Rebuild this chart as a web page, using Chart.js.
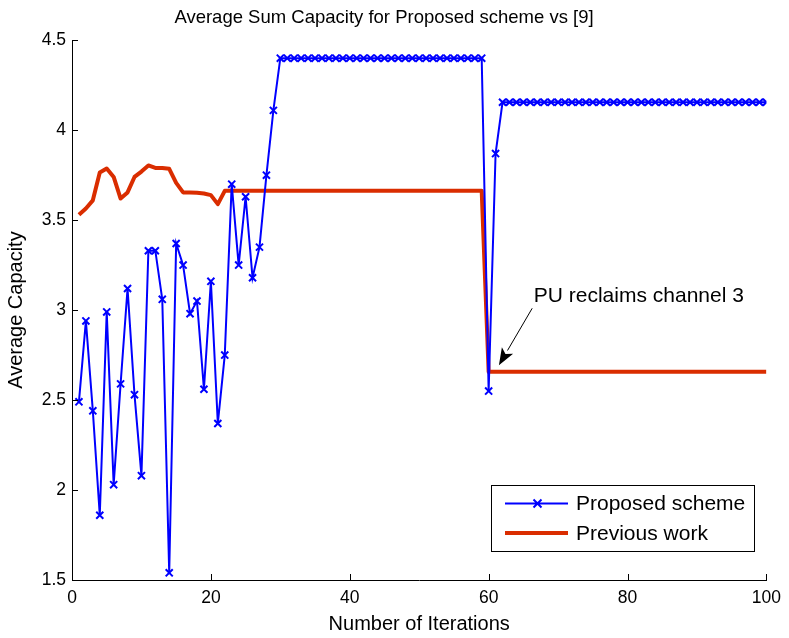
<!DOCTYPE html>
<html>
<head>
<meta charset="utf-8">
<script src="https://cdn.jsdelivr.net/npm/chart.js@4.4.1/dist/chart.umd.min.js"></script>
<style>
    html, body { margin: 0; padding: 0; background: #fff; }
</style>
</head>
<body>
<canvas id="capacityChart" width="789" height="638"></canvas>
<script>
// iteration index 1..100
const iterations = Array.from({ length: 100 }, (_, i) => i + 1)

const proposedScheme = [
    2.49, 2.94, 2.44, 1.86, 2.99, 2.03, 2.59, 3.12, 2.53, 2.08,
    3.33, 3.33, 3.06, 1.54, 3.37, 3.25, 2.98, 3.05, 2.56, 3.16,
    2.37, 2.75, 3.70, 3.25, 3.63, 3.18, 3.35, 3.75, 4.11, 4.40,
    4.40, 4.40, 4.40, 4.40, 4.40, 4.40, 4.40, 4.40, 4.40, 4.40,
    4.40, 4.40, 4.40, 4.40, 4.40, 4.40, 4.40, 4.40, 4.40, 4.40,
    4.40, 4.40, 4.40, 4.40, 4.40, 4.40, 4.40, 4.40, 4.40, 2.55,
    3.87, 4.155, 4.155, 4.155, 4.155, 4.155, 4.155, 4.155, 4.155, 4.155,
    4.155, 4.155, 4.155, 4.155, 4.155, 4.155, 4.155, 4.155, 4.155, 4.155,
    4.155, 4.155, 4.155, 4.155, 4.155, 4.155, 4.155, 4.155, 4.155, 4.155,
    4.155, 4.155, 4.155, 4.155, 4.155, 4.155, 4.155, 4.155, 4.155, 4.155
]
const previousWork = [
    3.53, 3.565, 3.61, 3.765, 3.787, 3.74, 3.62, 3.654, 3.74, 3.77,
    3.804, 3.79, 3.79, 3.785, 3.707, 3.654, 3.654, 3.652, 3.648, 3.639,
    3.589, 3.663, 3.663, 3.663, 3.663, 3.663, 3.663, 3.663, 3.663, 3.663,
    3.663, 3.663, 3.663, 3.663, 3.663, 3.663, 3.663, 3.663, 3.663, 3.663,
    3.663, 3.663, 3.663, 3.663, 3.663, 3.663, 3.663, 3.663, 3.663, 3.663,
    3.663, 3.663, 3.663, 3.663, 3.663, 3.663, 3.663, 3.663, 3.663, 2.657,
    2.657, 2.657, 2.657, 2.657, 2.657, 2.657, 2.657, 2.657, 2.657, 2.657,
    2.657, 2.657, 2.657, 2.657, 2.657, 2.657, 2.657, 2.657, 2.657, 2.657,
    2.657, 2.657, 2.657, 2.657, 2.657, 2.657, 2.657, 2.657, 2.657, 2.657,
    2.657, 2.657, 2.657, 2.657, 2.657, 2.657, 2.657, 2.657, 2.657, 2.657
]

const xTickValues = [0, 20, 40, 60, 80, 100]
const yTickValues = [1.5, 2, 2.5, 3, 3.5, 4, 4.5]
const yTickLabels = ['1.5', '2', '2.5', '3', '3.5', '4', '4.5']

const seriesNames = ['Proposed scheme', 'Previous work']

// the "PU reclaims channel 3" note, in data units
const noteText = 'PU reclaims channel 3'
const notePos = { x: 66.5, y: 3.08 }
const arrowFrom = { x: 66.27, y: 3.01 }
const arrowTo = { x: 61.48, y: 2.694 }

const BLUE = '#0000ff'
const RED = 'rgb(218, 45, 0)'
const FONT = "'Liberation Sans', Arial, Helvetica, sans-serif"

//draws inward ticks, the note with arrow, and the boxed legend
const extrasPlugin = {
    id: 'extras',
    afterDraw(chart) {
        const ctx = chart.ctx
        const xs = chart.scales.x
        const ys = chart.scales.y
        const area = chart.chartArea
        ctx.save()

        // inward ticks
        ctx.strokeStyle = '#000'
        ctx.lineWidth = 1
        ctx.beginPath()
        xTickValues.forEach(v => {
            const px = Math.round(xs.getPixelForValue(v)) + 0.5
            ctx.moveTo(px, area.bottom)
            ctx.lineTo(px, area.bottom - 6)
        })
        yTickValues.forEach(v => {
            const py = Math.round(ys.getPixelForValue(v)) + 0.5
            ctx.moveTo(area.left, py)
            ctx.lineTo(area.left + 6, py)
        })
        ctx.stroke()

        // note text
        ctx.fillStyle = '#000'
        ctx.font = '21px ' + FONT
        ctx.textBaseline = 'middle'
        ctx.textAlign = 'left'
        ctx.fillText(noteText, xs.getPixelForValue(notePos.x), ys.getPixelForValue(notePos.y))

        // arrow
        const ax = xs.getPixelForValue(arrowFrom.x)
        const ay = ys.getPixelForValue(arrowFrom.y)
        const bx = xs.getPixelForValue(arrowTo.x)
        const by = ys.getPixelForValue(arrowTo.y)
        const ang = Math.atan2(by - ay, bx - ax)
        const headLen = 17
        const headHalf = 6.5
        const baseX = bx - headLen * Math.cos(ang)
        const baseY = by - headLen * Math.sin(ang)
        ctx.beginPath()
        ctx.moveTo(ax, ay)
        ctx.lineTo(baseX, baseY)
        ctx.stroke()
        ctx.beginPath()
        ctx.moveTo(bx, by)
        ctx.lineTo(baseX + headHalf * Math.sin(ang), baseY - headHalf * Math.cos(ang))
        ctx.lineTo(baseX + 4 * Math.cos(ang), baseY + 4 * Math.sin(ang))
        ctx.lineTo(baseX - headHalf * Math.sin(ang), baseY + headHalf * Math.cos(ang))
        ctx.closePath()
        ctx.fill()

        // legend box
        const lx = 491.5, ly = 485.5, lw = 263, lh = 66
        ctx.fillStyle = '#fff'
        ctx.fillRect(lx, ly, lw, lh)
        ctx.strokeStyle = '#000'
        ctx.lineWidth = 1
        ctx.strokeRect(lx, ly, lw, lh)

        const rowY = [503.5, 533]
        // blue entry
        ctx.strokeStyle = BLUE
        ctx.lineWidth = 2
        ctx.beginPath()
        ctx.moveTo(505, rowY[0])
        ctx.lineTo(568, rowY[0])
        ctx.moveTo(537.5 - 4, rowY[0] - 4)
        ctx.lineTo(537.5 + 4, rowY[0] + 4)
        ctx.moveTo(537.5 - 4, rowY[0] + 4)
        ctx.lineTo(537.5 + 4, rowY[0] - 4)
        ctx.stroke()
        // red entry
        ctx.strokeStyle = RED
        ctx.lineWidth = 4
        ctx.beginPath()
        ctx.moveTo(505, rowY[1])
        ctx.lineTo(568, rowY[1])
        ctx.stroke()

        ctx.fillStyle = '#000'
        ctx.font = '21px ' + FONT
        ctx.fillText(seriesNames[0], 576, rowY[0] + 1)
        ctx.fillText(seriesNames[1], 576, rowY[1] + 1)

        ctx.restore()
    }
}

const ctx = document.getElementById('capacityChart').getContext('2d')
new Chart(ctx, {
    type: 'line',
    data: {
        datasets: [{
            label: seriesNames[0],
            data: iterations.map((it, i) => ({ x: it, y: proposedScheme[i] })),
            borderColor: BLUE,
            backgroundColor: BLUE,
            borderWidth: 2,
            pointStyle: 'crossRot',
            pointRadius: 5,
            pointBorderWidth: 2,
            pointBorderColor: BLUE,
            tension: 0,
            fill: false
        }, {
            label: seriesNames[1],
            data: iterations.map((it, i) => ({ x: it, y: previousWork[i] })),
            borderColor: RED,
            backgroundColor: RED,
            borderWidth: 4,
            borderJoinStyle: 'round',
            pointRadius: 0,
            tension: 0,
            fill: false
        }]
    },
    options: {
        responsive: false,
        animation: false,
        devicePixelRatio: 1,
        layout: {
            padding: { left: 0, right: 21, top: 0, bottom: 0 }
        },
        plugins: {
            legend: { display: false },
            tooltip: { enabled: false },
            title: {
                display: true,
                text: 'Average Sum Capacity for Proposed scheme vs [9]',
                color: '#000',
                font: { family: FONT, size: 18.5, weight: 'normal' },
                padding: { top: 7, bottom: 11 }
            }
        },
        scales: {
            x: {
                type: 'linear',
                min: 0,
                max: 100,
                afterBuildTicks: s => { s.ticks = xTickValues.map(v => ({ value: v })) },
                ticks: {
                    color: '#000',
                    font: { family: FONT, size: 17.5 },
                    padding: 8,
                    maxRotation: 0
                },
                grid: { display: false, drawTicks: false },
                border: { display: true, color: '#000', width: 1 },
                title: {
                    display: true,
                    text: 'Number of Iterations',
                    color: '#000',
                    font: { family: FONT, size: 20 },
                    padding: { top: 0, bottom: 2 }
                },
                afterFit: s => { s.height = 58 }
            },
            y: {
                type: 'linear',
                min: 1.5,
                max: 4.5,
                afterBuildTicks: s => { s.ticks = yTickValues.map(v => ({ value: v })) },
                ticks: {
                    color: '#000',
                    font: { family: FONT, size: 17.5 },
                    padding: 6,
                    callback: (v, i) => yTickLabels[i]
                },
                grid: { display: false, drawTicks: false },
                border: { display: true, color: '#000', width: 1 },
                title: {
                    display: true,
                    text: 'Average Capacity',
                    color: '#000',
                    font: { family: FONT, size: 20 },
                    padding: { top: 4, bottom: 0 }
                },
                afterFit: s => { s.width = 72 }
            }
        }
    },
    plugins: [extrasPlugin]
});
</script>
</body>
</html>
